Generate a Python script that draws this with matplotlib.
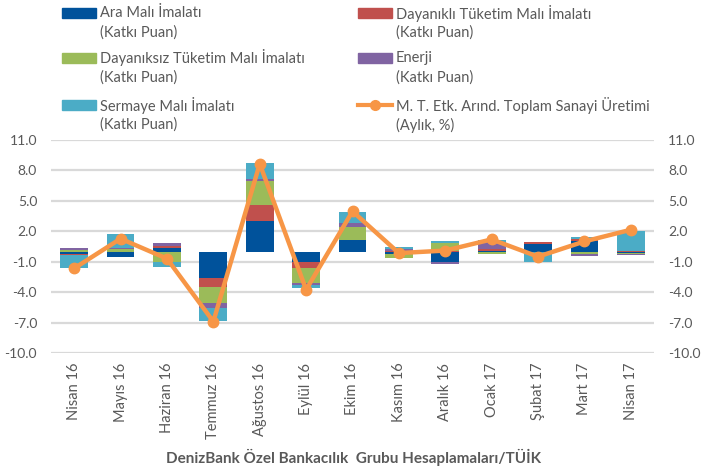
"""
Sanayi üretimi katkı grafiği - aylık değişim ve alt kalem katkıları
"""
import numpy as np
import matplotlib.pyplot as plt
from matplotlib.patches import Rectangle
from matplotlib.lines import Line2D

# ----------------------------------------------------------------------
# Data
# ----------------------------------------------------------------------
months = ["Nisan 16", "Mayıs 16", "Haziran 16", "Temmuz 16", "Ağustos 16",
          "Eylül 16", "Ekim 16", "Kasım 16", "Aralık 16", "Ocak 17",
          "Şubat 17", "Mart 17", "Nisan 17"]

ara        = [-0.20, -0.50,  0.35, -2.60,  3.05, -1.03,  1.10, -0.25, -1.05,  0.05,  0.70,  1.00, -0.15]
dayanikli  = [-0.15, -0.05,  0.15, -0.92,  1.58, -0.59,  0.07,  0.10,  0.05,  0.25,  0.20,  0.26,  0.03]
dayaniksiz = [ 0.15,  0.25, -1.05, -1.51,  2.30, -1.48,  1.25, -0.40,  0.80, -0.20, -0.05, -0.25, -0.12]
enerji     = [ 0.22,  0.12,  0.35, -0.49,  0.26, -0.16,  0.39,  0.15, -0.15,  0.65, -0.03, -0.15, -0.05]
sermaye    = [-1.30,  1.40, -0.50, -1.32,  1.58, -0.33,  1.09,  0.20,  0.22,  0.15, -0.95,  0.16,  2.00]
toplam     = [-1.65,  1.27, -0.70, -6.90,  8.65, -3.76,  3.97, -0.15,  0.10,  1.20, -0.50,  1.00,  2.15]

series_names = ["Ara Malı İmalatı", "Dayanıklı Tüketim Malı İmalatı",
                "Dayanıksız Tüketim Malı İmalatı", "Enerji", "Sermaye Malı İmalatı"]
line_name = "M. T. Etk. Arınd. Toplam Sanayi Üretimi"

yticks = [11, 8, 5, 2, -1, -4, -7, -10]

# Styling
COLORS = ["#00529B", "#C0504D", "#9BBB59", "#8064A2", "#4BACC6"]
ORANGE = "#F79646"
GRID   = "#D9D9D9"
TXT    = "#595959"
FONT   = "Lato"

plt.rcParams["font.family"] = [FONT, "DejaVu Sans"]

W, H = 701, 471
fig = plt.figure(figsize=(W / 100, H / 100), dpi=100)

def px_x(x):
    return x / W

def px_y(y):
    return 1 - y / H

ax = fig.add_axes([px_x(51), px_y(353), px_x(603), (353 - 140) / H])

# ----------------------------------------------------------------------
# Stacked bars (positive and negative parts stacked separately)
# ----------------------------------------------------------------------
x = np.arange(len(months))
pos = np.zeros(len(months))
neg = np.zeros(len(months))
for vals, col in zip([ara, dayanikli, dayaniksiz, enerji, sermaye], COLORS):
    v = np.array(vals)
    bottom = np.where(v >= 0, pos, neg)
    ax.bar(x, v, 0.6, bottom=bottom, color=col, edgecolor="none", zorder=2)
    pos = pos + np.where(v >= 0, v, 0)
    neg = neg + np.where(v < 0, v, 0)

ax.plot(x, toplam, color=ORANGE, lw=3.2, marker="o", ms=7.5, zorder=3)

ax.set_xlim(-0.5, len(months) - 0.5)
ax.set_ylim(-10, 11)
ax.set_yticks(yticks)
ax.set_yticklabels([f"{t:.1f}" for t in yticks])
ax.grid(axis="y", color=GRID, lw=1.6, zorder=0)
for s in ax.spines.values():
    s.set_visible(False)
ax.tick_params(axis="y", length=0, labelsize=10, labelcolor=TXT, pad=10,
               labelleft=True, labelright=True)
ax.set_xticks(x)
ax.set_xticklabels(months, rotation=90, fontsize=10.5, color=TXT)
ax.tick_params(axis="x", length=0, pad=7)

# ----------------------------------------------------------------------
# Legend (drawn by hand to keep the two-line Excel look)
# ----------------------------------------------------------------------
rows_y = [13, 58, 105]
cols_x = [62, 358]
entries = [(0, 0, series_names[0], "(Katkı Puan)", COLORS[0]),
           (1, 0, series_names[1], "(Katkı Puan)", COLORS[1]),
           (0, 1, series_names[2], "(Katkı Puan)", COLORS[2]),
           (1, 1, series_names[3], "(Katkı Puan)", COLORS[3]),
           (0, 2, series_names[4], "(Katkı Puan)", COLORS[4]),
           (1, 2, line_name, "(Aylık, %)", None)]

for c, r, l1, l2, col in entries:
    x0, y0 = cols_x[c], rows_y[r]
    if col is not None:
        fig.add_artist(Rectangle((px_x(x0), px_y(y0 + 5)), px_x(34), 10 / H,
                                 transform=fig.transFigure, color=col))
    else:
        fig.add_artist(Line2D([px_x(x0), px_x(x0 + 34)], [px_y(y0), px_y(y0)],
                              transform=fig.transFigure, color=ORANGE, lw=3))
        fig.add_artist(Line2D([px_x(x0 + 17)], [px_y(y0)], transform=fig.transFigure,
                              color=ORANGE, marker="o", ms=7))
    fig.text(px_x(x0 + 38), px_y(y0), l1, fontsize=10.5, color=TXT, va="center")
    fig.text(px_x(x0 + 38), px_y(y0 + 20), l2, fontsize=10.5, color=TXT, va="center")

fig.text(px_x(353), px_y(457), "DenizBank Özel Bankacılık  Grubu Hesaplamaları/TÜİK",
         ha="center", va="center", fontsize=11, fontweight="bold", color=TXT)

fig.savefig("out.png", dpi=100)
